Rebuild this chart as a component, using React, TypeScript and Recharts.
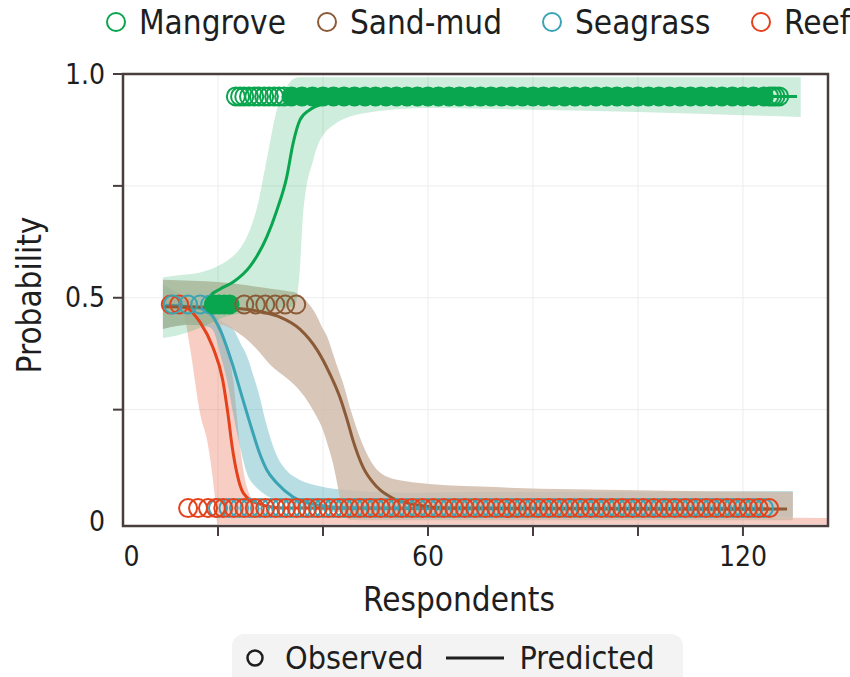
import { Area, CartesianGrid, ComposedChart, Line, ReferenceArea, Scatter, XAxis, YAxis } from "recharts";

const FONT = "'DejaVu Sans Condensed', 'Liberation Sans Narrow', 'DejaVu Sans', sans-serif";
const AXIS = "#4a3d3d";
const INK = "#1e1e1e";

const GREEN = "#0aa64f";
const BROWN = "#8b5a36";
const TEAL = "#3ba4b4";
const RED = "#e4421c";
const TAN = "#cfb9a8";

// axis setup
const X_DOMAIN = [1.9, 136.2];
const Y_DOMAIN = [-0.01, 1];
const ZERO_POS = 3.5; // where the "0" label sits
const xTicks = [ZERO_POS, 20, 40, 60, 80, 100, 120];
const xLabels = ["0", "", "", "60", "", "", "120"];
const yTicks = [0, 0.25, 0.5, 0.75, 1];
const yLabels = ["0", "", "0.5", "", "1.0"];

// confidence bands: x, lower, upper
const mangroveBandX = [9.5, 12, 16, 19.8, 22, 24.2, 26, 27.4, 29.3, 31.2, 33, 34.5, 35.5, 36.3, 38.2, 41.3, 48, 60, 80, 100, 120, 131];
const mangroveBandLo = [0.41, 0.415, 0.43, 0.45, 0.46, 0.465, 0.47, 0.47, 0.47, 0.475, 0.478, 0.48, 0.55, 0.7, 0.81, 0.88, 0.913, 0.924, 0.92, 0.915, 0.908, 0.904];
const mangroveBandHi = [0.545, 0.55, 0.555, 0.57, 0.585, 0.61, 0.65, 0.7, 0.81, 0.92, 0.97, 0.99, 0.993, 0.993, 0.993, 0.993, 0.993, 0.993, 0.993, 0.993, 0.993, 0.993];

const sandBandX = [9.5, 15, 20, 24, 27, 30, 33.1, 35, 37, 38.5, 40, 40.8, 41.9, 43.2, 43.8, 45.1, 47, 49, 52.2, 57, 70, 100, 129.5];
const sandBandLo = [0.43, 0.44, 0.44, 0.42, 0.39, 0.35, 0.32, 0.3, 0.27, 0.24, 0.204, 0.175, 0.13, 0.055, 0.02, 0.004, 0.003, 0.003, 0.003, 0.003, 0.003, 0.003, 0.003];
const sandBandHi = [0.54, 0.538, 0.535, 0.53, 0.525, 0.52, 0.515, 0.51, 0.49, 0.466, 0.43, 0.413, 0.375, 0.33, 0.31, 0.256, 0.189, 0.137, 0.1, 0.088, 0.078, 0.07, 0.066];

const seaBandX = [9.5, 14, 18, 19, 20.5, 21.7, 22.9, 24.2, 25.5, 27, 27.9, 29, 31.1, 33, 35.6, 39, 45, 55, 80, 129.5];
const seaBandLo = [0.43, 0.44, 0.435, 0.428, 0.37, 0.316, 0.24, 0.167, 0.108, 0.08, 0.07, 0.06, 0.048, 0.04, 0.033, 0.026, 0.02, 0.015, 0.012, 0.01];
const seaBandHi = [0.53, 0.5, 0.47, 0.46, 0.45, 0.44, 0.43, 0.4, 0.37, 0.316, 0.28, 0.227, 0.15, 0.115, 0.093, 0.08, 0.07, 0.065, 0.066, 0.068];

const reefBandX = [10, 13.5, 14.5, 16.6, 18.1, 19.4, 19.9, 21, 22.9, 24.2, 25.5, 28, 35, 80, 136];
const reefBandLo = [0.47, 0.46, 0.4, 0.24, 0.17, 0.055, -0.006, -0.006, -0.006, -0.006, -0.006, -0.006, -0.006, -0.006, -0.006];
const reefBandHi = [0.5, 0.495, 0.49, 0.485, 0.475, 0.465, 0.455, 0.42, 0.316, 0.167, 0.077, 0.03, 0.012, 0.01, 0.008];

// predicted lines
const mangroveLineX = [17.9, 18.6, 20.5, 22.9, 26.1, 29.3, 31.2, 33.1, 34.3, 35.6, 37.5, 40.8, 45.2, 50, 130.3];
const mangroveLineY = [0.488, 0.505, 0.52, 0.535, 0.57, 0.636, 0.695, 0.77, 0.845, 0.897, 0.92, 0.935, 0.946, 0.95, 0.95];

const sandLineX = [9.5, 20, 26.1, 29.3, 31.8, 35.6, 38.9, 41.3, 43.2, 44.6, 45.7, 47.6, 50.3, 53.3, 57.9, 64.2, 128.4];
const sandLineY = [0.48, 0.479, 0.473, 0.466, 0.457, 0.43, 0.383, 0.33, 0.278, 0.227, 0.182, 0.122, 0.077, 0.052, 0.037, 0.03, 0.028];

const seaLineX = [10, 16, 18.5, 20.4, 22.7, 24.6, 26.5, 27.9, 29.3, 31.2, 34.3, 38.9, 45.1, 124];
const seaLineY = [0.483, 0.478, 0.465, 0.428, 0.353, 0.278, 0.204, 0.153, 0.115, 0.086, 0.055, 0.037, 0.03, 0.028];

const reefLineX = [10.5, 14.3, 15.2, 16.6, 19, 20.9, 21.9, 22.7, 23.6, 24.8, 27.4, 32.4, 125];
const reefLineY = [0.483, 0.476, 0.466, 0.445, 0.39, 0.316, 0.24, 0.167, 0.108, 0.064, 0.041, 0.03, 0.028];

// observed
const HIGH = 0.95;
const MID = 0.485;
const LOW = 0.03;
const mangroveHighRings = [23.4, 24.2, 25, 25.9, 26.9, 27.8, 28.8, 29.7, 30.7, 31.6, 32.6, 125, 125.6, 126.2, 126.9];
const mangroveHighDense = [34, 36, 38, 40, 42, 44, 46, 48, 50, 52, 54, 56, 58, 60, 62, 64, 66, 68, 70, 72, 74, 76, 78, 80, 82, 84, 86, 88, 90, 92, 94, 96, 98, 100, 102, 104, 106, 108, 110, 112, 114, 116, 118, 120, 122, 124];
const mangroveMidDense = [19.2, 20.2, 21.2, 22.2];
const sandMidRings = [25, 27.2, 29, 30.9, 32.8, 34.9];
const seaMidRings = [11.4, 14.3, 16.6, 18.5];
const reefMidRings = [11, 12.6];
const seaLowRings = [20, 22, 24, 26, 28, 30, 32, 34, 36, 38, 40, 42, 44, 46, 48, 50, 52, 54, 56, 58, 60, 62, 64, 66, 68, 70, 72, 74, 76, 78, 80, 82, 84, 86, 88, 90, 92, 94, 96, 98, 100, 102, 104, 106, 108, 110, 112, 114, 116, 118, 120, 122, 124];
const reefLowRings = [14.3, 16.2, 18.1, 19.6, 21, 23, 25, 27, 29, 31, 33, 35, 37, 39, 41, 43, 45, 47, 49, 51, 53, 55, 57, 59, 61, 63, 65, 67, 69, 71, 73, 75, 77, 79, 81, 83, 85, 87, 89, 91, 93, 95, 97, 99, 101, 103, 105, 107, 109, 111, 113, 115, 117, 119, 121, 123, 125];

const legendItems = [
    { name: "Mangrove", color: GREEN, left: 105 },
    { name: "Sand-mud", color: BROWN, left: 316 },
    { name: "Seagrass", color: TEAL, left: 541 },
    { name: "Reef", color: RED, left: 750 },
];

const band = (xs: number[], lo: number[], hi: number[]) => xs.map((x, i) => ({ x, range: [lo[i], hi[i]] }));
const line = (xs: number[], ys: number[]) => xs.map((x, i) => ({ x, y: ys[i] }));
const pts = (xs: number[], y: number) => xs.map((x) => ({ x, y }));

const ring = (color: string) => (p: any) => (
    <circle cx={p.cx} cy={p.cy} r={9} fill="none" stroke={color} strokeWidth={2} />
);
const blob = (color: string) => (p: any) => <circle cx={p.cx} cy={p.cy} r={10} fill={color} />;

function XTick(props: any) {
    const { x, y, payload, index } = props;
    const label = xLabels[index] ?? "";
    return (
        <g>
            {payload.value !== ZERO_POS && <line x1={x} x2={x} y1={y - 14} y2={y - 4} stroke={AXIS} strokeWidth={2} />}
            {label && (
                <text x={x} y={y + 16} textAnchor="middle" dominantBaseline="central" fontFamily={FONT} fontSize={28} fill={INK}>
                    {label}
                </text>
            )}
        </g>
    );
}

function YTick(props: any) {
    const { x, y, payload, index } = props;
    const label = yLabels[index] ?? "";
    return (
        <g>
            {payload.value !== 0 && <line x1={x + 8} x2={x + 18} y1={y} y2={y} stroke={AXIS} strokeWidth={2} />}
            {label && (
                <text x={x} y={y} textAnchor="end" dominantBaseline="central" fontFamily={FONT} fontSize={28} fill={INK}>
                    {label}
                </text>
            )}
        </g>
    );
}

export default function App() {
    return (
        <div style={{ position: "absolute", left: 0, top: 0, width: 850, height: 677, background: "#fff", fontFamily: FONT, color: INK, overflow: "hidden" }}>
            {legendItems.map((it) => (
                <div key={it.name} style={{ position: "absolute", left: it.left, top: 2, height: 40, display: "flex", alignItems: "center", whiteSpace: "nowrap", fontSize: 33 }}>
                    <svg width={22} height={22} style={{ marginRight: 12 }}>
                        <circle cx={11} cy={11} r={9} fill="none" stroke={it.color} strokeWidth={2} />
                    </svg>
                    <span>{it.name}</span>
                </div>
            ))}

            <ComposedChart width={850} height={677} margin={{ top: 74, right: 22, bottom: 91, left: 63 }}>
                <CartesianGrid verticalValues={[20, 40, 60, 80, 100, 120]} horizontalValues={[0.25, 0.5, 0.75]} stroke="#ededed" strokeWidth={1} />
                <XAxis type="number" dataKey="x" domain={X_DOMAIN} allowDataOverflow ticks={xTicks} tick={<XTick />} tickLine={false} axisLine={false} tickSize={10} tickMargin={4} height={60} interval={0} />
                <YAxis type="number" dataKey="y" domain={Y_DOMAIN} allowDataOverflow ticks={yTicks} tick={<YTick />} tickLine={false} axisLine={false} tickSize={10} tickMargin={8} width={60} interval={0} />

                <Area data={band(reefBandX, reefBandLo, reefBandHi)} dataKey="range" type="monotone" stroke="none" fill={RED} fillOpacity={0.26} isAnimationActive={false} />
                <Area data={band(seaBandX, seaBandLo, seaBandHi)} dataKey="range" type="monotone" stroke="none" fill={TEAL} fillOpacity={0.36} isAnimationActive={false} />
                <Area data={band(sandBandX, sandBandLo, sandBandHi)} dataKey="range" type="monotone" stroke="none" fill={TAN} fillOpacity={0.82} isAnimationActive={false} />
                <Area data={band(mangroveBandX, mangroveBandLo, mangroveBandHi)} dataKey="range" type="monotone" stroke="none" fill={GREEN} fillOpacity={0.2} isAnimationActive={false} />

                <Scatter data={pts(seaLowRings, LOW)} shape={ring(TEAL)} isAnimationActive={false} />
                <Scatter data={pts(reefLowRings, LOW)} shape={ring(RED)} isAnimationActive={false} />
                <Scatter data={pts(reefMidRings, MID)} shape={ring(RED)} isAnimationActive={false} />
                <Scatter data={pts(seaMidRings, MID)} shape={ring(TEAL)} isAnimationActive={false} />
                <Scatter data={pts(mangroveMidDense, MID)} shape={blob(GREEN)} isAnimationActive={false} />
                <Scatter data={pts(sandMidRings, MID)} shape={ring(BROWN)} isAnimationActive={false} />
                <Scatter data={pts(mangroveHighRings, HIGH)} shape={ring(GREEN)} isAnimationActive={false} />
                <Scatter data={pts(mangroveHighDense, HIGH)} shape={blob(GREEN)} isAnimationActive={false} />

                <Line data={line(reefLineX, reefLineY)} dataKey="y" type="monotone" stroke={RED} strokeWidth={3} dot={false} isAnimationActive={false} />
                <Line data={line(seaLineX, seaLineY)} dataKey="y" type="monotone" stroke={TEAL} strokeWidth={3} dot={false} isAnimationActive={false} />
                <Line data={line(sandLineX, sandLineY)} dataKey="y" type="monotone" stroke={BROWN} strokeWidth={3} dot={false} isAnimationActive={false} />
                <Line data={line(mangroveLineX, mangroveLineY)} dataKey="y" type="monotone" stroke={GREEN} strokeWidth={3} dot={false} isAnimationActive={false} />

                <ReferenceArea x1={X_DOMAIN[0]} x2={X_DOMAIN[1]} y1={Y_DOMAIN[0]} y2={Y_DOMAIN[1]} fill="none" stroke={AXIS} strokeWidth={2.5} ifOverflow="visible" />
            </ComposedChart>

            <div style={{ position: "absolute", left: 300, width: 318, top: 580, textAlign: "center", fontSize: 33, lineHeight: "40px" }}>Respondents</div>
            <div style={{ position: "absolute", left: 30, top: 295, width: 0, height: 0 }}>
                <div style={{ position: "absolute", left: -120, top: -20, width: 240, height: 40, lineHeight: "40px", textAlign: "center", fontSize: 33, transform: "rotate(-90deg)", whiteSpace: "nowrap" }}>
                    Probability
                </div>
            </div>

            <div style={{ position: "absolute", left: 232, top: 634, width: 451, height: 60, background: "#f3f3f3", borderRadius: 12 }} />
            <div style={{ position: "absolute", left: 245, top: 641, height: 34, display: "flex", alignItems: "center", fontSize: 32, lineHeight: "34px", whiteSpace: "nowrap" }}>
                <svg width={20} height={20} style={{ marginRight: 20 }}>
                    <circle cx={10} cy={10} r={7.5} fill="none" stroke={INK} strokeWidth={2.5} />
                </svg>
                <span>Observed</span>
                <svg width={58} height={10} style={{ margin: "0 16px 0 22px" }}>
                    <line x1={0} x2={58} y1={5} y2={5} stroke={INK} strokeWidth={3} />
                </svg>
                <span>Predicted</span>
            </div>
        </div>
    );
}
